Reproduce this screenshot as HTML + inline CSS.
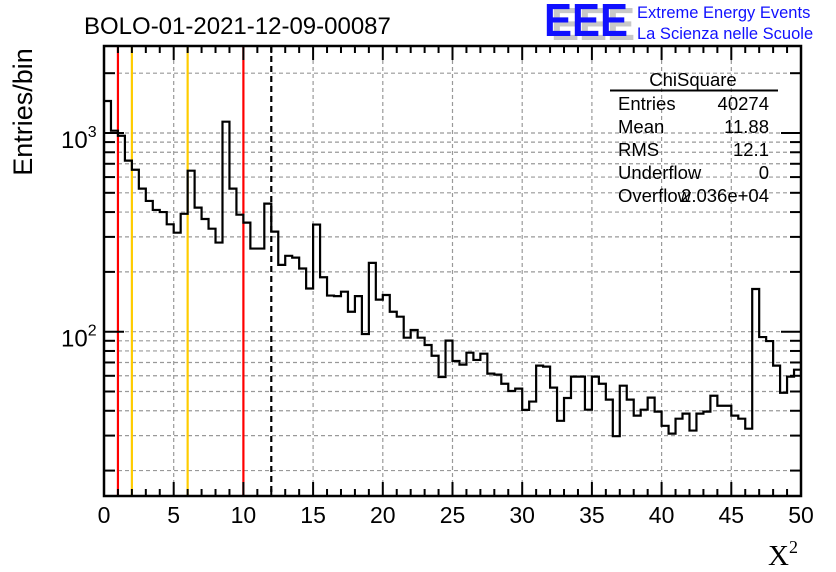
<!DOCTYPE html>
<html><head><meta charset="utf-8"><style>
body{margin:0;background:#fff;}
svg{display:block;font-family:"Liberation Sans",sans-serif;}
</style></head><body>
<svg id="chart" width="836" height="572" viewBox="0 0 836 572" xmlns="http://www.w3.org/2000/svg">
<rect x="0" y="0" width="836" height="572" fill="#fff"/>
<g id="grid"></g>
<g id="marks"></g>
<g id="axes"></g>
<text x="84" y="34" font-size="24">BOLO-01-2021-12-09-00087</text>
<g>
<text x="551" y="40" font-size="46" font-weight="bold" fill="#c8c8c8" textLength="84" lengthAdjust="spacingAndGlyphs">EEE</text>
<text x="544" y="36" font-size="46" font-weight="bold" fill="#1010ff" textLength="84" lengthAdjust="spacingAndGlyphs">EEE</text>
<text x="637" y="18" font-size="16.5" fill="#1010ff">Extreme Energy Events</text>
<text x="637" y="39" font-size="16.5" fill="#1010ff">La Scienza nelle Scuole</text>
</g>
<g font-size="18.5">
<text x="693" y="86" text-anchor="middle">ChiSquare</text>
<line x1="610" y1="90.5" x2="778" y2="90.5" stroke="#000" stroke-width="2"/>
<text x="618" y="110">Entries</text><text x="769" y="110" text-anchor="end">40274</text>
<text x="618" y="133">Mean</text><text x="769" y="133" text-anchor="end">11.88</text>
<text x="618" y="156">RMS</text><text x="769" y="156" text-anchor="end">12.1</text>
<text x="618" y="179">Underflow</text><text x="769" y="179" text-anchor="end">0</text>
<text x="618" y="202">Overflow</text><text x="769" y="202" text-anchor="end">2.036e+04</text>
</g>
<text transform="translate(32,112) rotate(-90)" text-anchor="middle" font-size="27">Entries/bin</text>
<text x="768" y="565" font-size="29" font-family="Liberation Serif,serif">X<tspan font-size="18" dy="-12">2</tspan></text>
</svg>
<script>
const values = [1449,1027,969,726,653,525,455,410,400,347,315,392,646,421,369,330,281,1140,525,388,354,262,262,441,319,217,241,236,208,165,346,188,152,151,159,126,151,97.3,222,145,153,126,119,93.3,102,93.3,85.7,75.7,59.1,90.2,71.2,68.3,78.4,72.1,77.5,61.5,60.8,54.7,50.3,51.7,40.4,44.5,67.5,66.7,52.3,35.6,46.4,59.4,59.4,40.5,59.4,54.7,45.5,29.8,53.5,45.5,37.8,40.5,46.6,39.6,33.6,30.7,36.5,38.7,31.8,38.7,39.6,47.6,42.4,42.4,37.8,36.5,32.5,164,94,89.7,67.5,49.3,59.4,64.4];
const binWidth = 0.5;
const xTickLabels = [0,5,10,15,20,25,30,35,40,45,50];
const yGridValues = [20,30,40,50,60,70,80,90,100,200,300,400,500,600,700,800,900,1000,2000];
const yMajor = [100,1000];
const redCuts = [1,10];
const orangeCuts = [2,6];
const meanLine = [12];

const NS="http://www.w3.org/2000/svg";
const L=104,R=801,T=46,B=496;
const xMin=0,xMax=50;
const yRef=133,decade=198.7;
function X(v){return L+(v-xMin)/(xMax-xMin)*(R-L);}
function Y(v){return yRef-(Math.log10(v)-3)*decade;}
function mk(tag,attrs,parent){const e=document.createElementNS(NS,tag);for(const k in attrs)e.setAttribute(k,attrs[k]);parent.appendChild(e);return e;}
const grid=document.getElementById('grid'),marks=document.getElementById('marks'),axes=document.getElementById('axes');

for(const t of xTickLabels){ if(t===xMin||t===xMax)continue;
 const g=mk('line',{x1:X(t),x2:X(t),y1:T,y2:B,stroke:'#999','stroke-dasharray':'4,3','stroke-width':1.2},grid);
 
 
}
for(const v of yGridValues){ const y=Y(v); if(y<T||y>B)continue;
 const g=mk('line',{x1:L,x2:R,y1:y,y2:y,stroke:'#999','stroke-dasharray':'4,3','stroke-width':1.2},grid);
 
 
}
function vline(v,color,dash,name){
 const l=mk('line',{x1:X(v),x2:X(v),y1:T,y2:B,stroke:color,'stroke-width':2.2},marks);
 if(dash)l.setAttribute('stroke-dasharray',dash);
 
 
}
for(const c of redCuts)vline(c,'#ff0000',null,'red-cut-line');
for(const c of orangeCuts)vline(c,'#ffcc00',null,'orange-cut-line');
for(const c of meanLine)vline(c,'#000',"6,4",'mean-line');

let d='';
values.forEach((v,i)=>{const x0=X(i*binWidth),x1=X((i+1)*binWidth),y=Math.max(T,Math.min(B,Y(v)));
 d+=(i===0?'M'+x0+','+y:'L'+x0+','+y)+'L'+x1+','+y;});
const hist=mk('path',{d:d,fill:'none',stroke:'#000','stroke-width':2.2},marks);



const frame=mk('rect',{x:L,y:T,width:R-L,height:B-T,fill:'none',stroke:'#000','stroke-width':2.5},axes);


for(let v=xMin;v<=xMax;v+=1){const maj=(v%5===0);const len=maj?14:7;
 mk('line',{x1:X(v),x2:X(v),y1:B,y2:B-len,stroke:'#000','stroke-width':2},axes);
 mk('line',{x1:X(v),x2:X(v),y1:T,y2:T+len,stroke:'#000','stroke-width':2},axes);
}
for(const t of xTickLabels){
 const tx=mk('text',{x:X(t),y:523,'text-anchor':'middle','font-size':23},axes);
 tx.textContent=t;
 
 
}
for(const v of yGridValues){const y=Y(v); if(y<T||y>B)continue;const maj=yMajor.includes(v);const len=maj?20:11;
 mk('line',{x1:L,x2:L+len,y1:y,y2:y,stroke:'#000','stroke-width':2},axes);
 mk('line',{x1:R,x2:R-len,y1:y,y2:y,stroke:'#000','stroke-width':2},axes);
}
for(const v of yMajor){
 const tx=mk('text',{x:61,y:Y(v)+15,'font-size':24},axes);
 
 
 tx.textContent='10';
 const sp=mk('tspan',{dy:-11,'font-size':16},tx);
 sp.textContent=String(Math.round(Math.log10(v)));
}
</script>
</body></html>
